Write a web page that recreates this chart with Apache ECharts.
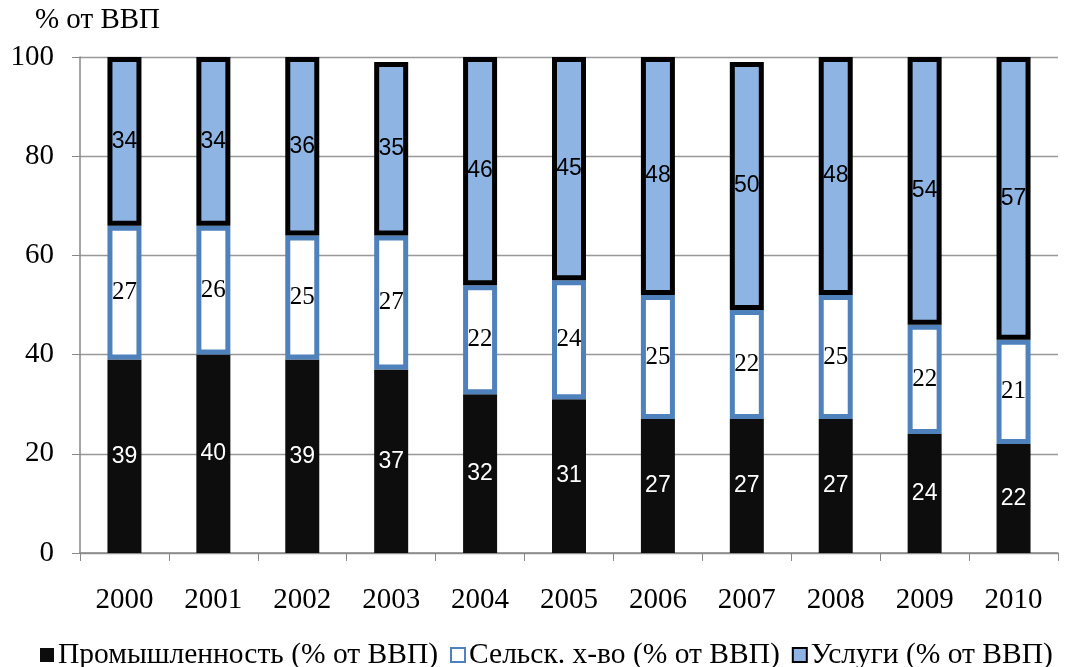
<!DOCTYPE html>
<html><head><meta charset="utf-8">
<script src="https://cdn.jsdelivr.net/npm/echarts@6/dist/echarts.min.js"></script>
<style>html,body{margin:0;padding:0;background:#fff}#c{width:1067px;height:667px}</style>
</head><body><div id="c"></div>
<script>
const years = ['2000','2001','2002','2003','2004','2005','2006','2007','2008','2009','2010'];
const industry = [39,40,39,37,32,31,27,27,27,24,22];
const agriculture = [27,26,25,27,22,24,25,22,25,22,21];
const services = [34,34,36,35,46,45,48,50,48,54,57];
const yTicks = [0,20,40,60,80,100];
const names = ['Промышленность (% от ВВП)','Сельск. х-во (% от ВВП)','Услуги (% от ВВП)'];

const serif = '"Liberation Serif","DejaVu Serif",serif';
const sans = '"Liberation Sans","DejaVu Sans",sans-serif';
const chart = echarts.init(document.getElementById('c'));
const lbl = (color, font, size) => ({show:true, position:'inside', color:color, fontFamily:font, fontSize:size});
chart.setOption({
  animation:false,
  textStyle:{fontFamily:serif},
  grid:{left:80, right:9, top:57, bottom:114},
  legend:{
    bottom:-8, left:40, width:1060, padding:[5,0,5,0], itemGap:12, itemWidth:14, itemHeight:14, icon:'rect',
    textStyle:{fontFamily:serif, fontSize:29.5, color:'#000', padding:[0,0,0,-1]},
    data:names
  },
  xAxis:{
    type:'category', data:years,
    axisLine:{lineStyle:{color:'#888', width:1.5}},
    axisTick:{show:true, length:8, lineStyle:{color:'#888'}},
    axisLabel:{color:'#000', fontFamily:serif, fontSize:29, margin:33}
  },
  yAxis:{
    type:'value', min:yTicks[0], max:yTicks[yTicks.length-1], interval:20,
    name:'% от ВВП', nameLocation:'end', nameGap:22,
    nameTextStyle:{color:'#000', fontFamily:serif, fontSize:29, align:'center', padding:[0,0,0,35]},
    axisLine:{show:true, lineStyle:{color:'#888', width:1.5}},
    axisTick:{show:true, length:8, lineStyle:{color:'#888'}},
    axisLabel:{color:'#000', fontFamily:serif, fontSize:29, margin:26},
    splitLine:{lineStyle:{color:'#999', width:1.3}}
  },
  series:[
    {name:names[0], type:'bar', stack:'a', data:industry, barWidth:34,
     itemStyle:{color:'#0d0d0d', borderColor:'#0d0d0d', borderWidth:0},
     label:lbl('#fff', sans, 23)},
    {name:names[1], type:'bar', stack:'a', data:agriculture,
     itemStyle:{color:'#fff', borderColor:'#4f81bd', borderWidth:5},
     label:lbl('#000', serif, 25)},
    {name:names[2], type:'bar', stack:'a', data:services,
     itemStyle:{color:'#8eb4e3', borderColor:'#000', borderWidth:5},
     label:lbl('#000', sans, 23)}
  ]
});
</script></body></html>
